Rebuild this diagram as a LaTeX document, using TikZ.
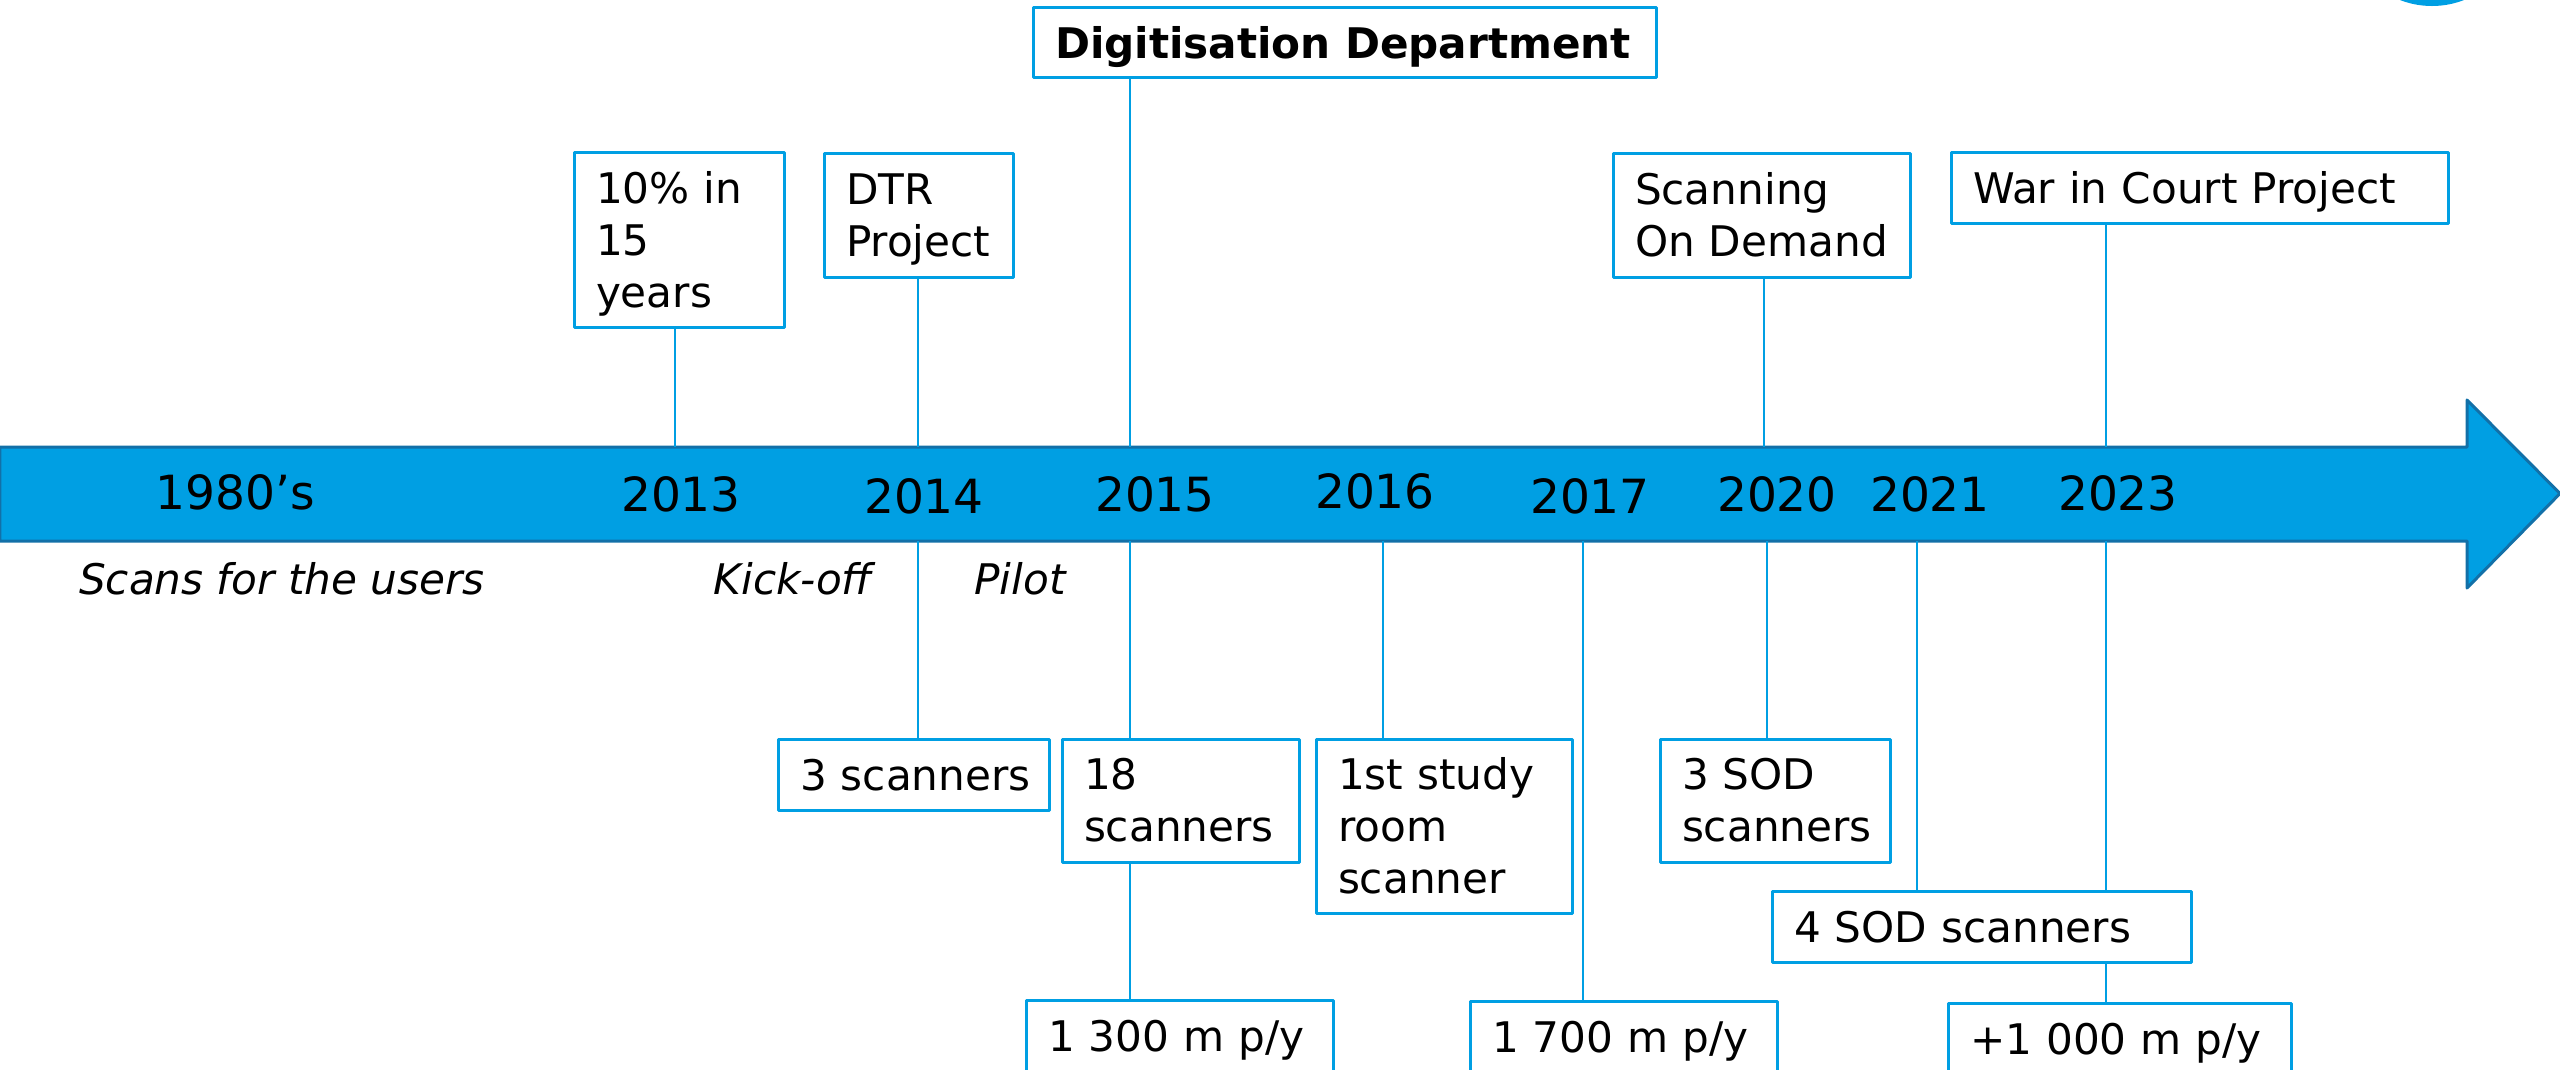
\documentclass[tikz,border=0pt]{standalone}
\usepackage{fontspec}
\setmainfont{DejaVu Sans}
\definecolor{tlblue}{RGB}{0,159,227}
\definecolor{tledge}{RGB}{18,112,168}
\begin{document}
\begin{tikzpicture}[x=0.1mm,y=-0.1mm, line join=round,
	year/.style={font=\fontsize{13.4}{16}\selectfont},
	note/.style={font=\fontsize{12}{14.8}\selectfont\itshape},
	box/.style 2 args={draw=tlblue, line width=0.3mm, fill=white, align=left, inner xsep=2.2mm, inner ysep=0pt, text width=#1mm, minimum height=#2mm, font=\fontsize{12}{14.8}\selectfont, execute at begin node={\hyphenpenalty=10000\relax}},
	one/.style={text depth=0pt},
	link/.style={draw=tlblue, line width=0.15mm}]
		\useasboundingbox (0,0) rectangle (2560,1069);
		\clip (0,0) rectangle (2560,1069);
		% timeline arrow
		\draw[fill=tlblue, draw=tledge, line width=0.3mm] (0,447) -- (2467,447) -- (2467,400) -- (2560,493.5) -- (2467,588) -- (2467,541) -- (0,541) -- cycle;
		\fill[tlblue] (2432,-82) circle (88);
		\node[year] (y80) at (235,492) {1980’s};
		\node[year] (y13) at (681,494) {2013};
		\node[year] (y14) at (924,496) {2014};
		\node[year] (y15) at (1155,494) {2015};
		\node[year] (y16) at (1375,491) {2016};
		\node[year] (y17) at (1590,496) {2017};
		\node[year] (y20) at (1777,494) {2020};
		\node[year] (y21) at (1930,494) {2021};
		\node[year] (y23) at (2118,493) {2023};
		\node[note] (n80) at (282,579) {Scans for the users};
		\node[note] (n13) at (793,579) {Kick-off};
		\node[note] (n14) at (1020,579) {Pilot};
		% boxes above
		\node[box={16.6}{17.5}] (b13) at (679,239.5) {10\% in\\15\\\smash{years}};
		\node[box={14.5}{12.4}] (b14) at (918.5,215) {DTR\\\smash{Project}};
		\node[box={57.9}{7.0}, one, font=\fontsize{12}{14.8}\selectfont\bfseries] (dep) at (1344.5,42) {Digitisation Department};
		\node[box={25.3}{12.4}] (b20) at (1761.5,215) {Scanning\\On Demand};
		\node[box={45.3}{7.1}, one] (b23) at (2199.5,187.5) {War in Court Project};
		% boxes below
		\node[box={22.7}{7.1}, one] (s14) at (913.5,774.5) {3~scanners};
		\node[box={19.3}{12.3}] (s15) at (1180.5,800.5) {18\\scanners};
		\node[box={21.2}{17.4}] (s16) at (1444,826) {1st study\\room\\scanner};
		\node[box={18.6}{12.3}] (s20) at (1775,800.5) {3 SOD\\scanners};
		\node[box={37.5}{7.1}, one] (s21) at (1981.5,926.5) {4 SOD scanners};
		\node[box={26.3}{7.1}, one] (m15) at (1179.5,1035.5) {1 300 m p/y};
		\node[box={26.3}{7.1}, one] (m17) at (1623.5,1036.5) {1 700 m p/y};
		\node[box={29.9}{7.1}, one] (m23) at (2119.5,1038.5) {+1 000 m p/y};
		% connectors
		\coordinate (t13) at (675,447);
		\coordinate (t14) at (918,447); \coordinate (u14) at (918,541);
		\coordinate (t15) at (1130,447); \coordinate (u15) at (1130,541);
		\coordinate (u16) at (1383,541);
		\coordinate (u17) at (1583,541);
		\coordinate (t20) at (1764,447); \coordinate (u20) at (1767,541);
		\coordinate (u21) at (1917,541);
		\coordinate (t23) at (2106,447); \coordinate (u23) at (2106,541);
		\draw[link] (b13.south -| t13) -- (t13);
		\draw[link] (b14.south -| t14) -- (t14);
		\draw[link] (dep.south -| t15) -- (t15);
		\draw[link] (b20.south -| t20) -- (t20);
		\draw[link] (b23.south -| t23) -- (t23);
		\draw[link] (u14) -- (u14 |- s14.north);
		\draw[link] (u15) -- (u15 |- s15.north);
		\draw[link] (s15.south -| u15) -- (m15.north -| u15);
		\draw[link] (u16) -- (u16 |- s16.north);
		\draw[link] (u17) -- (u17 |- m17.north);
		\draw[link] (u20) -- (u20 |- s20.north);
		\draw[link] (u21) -- (u21 |- s21.north);
		\draw[link] (u23) -- (u23 |- s21.north);
		\draw[link] (s21.south -| u23) -- (m23.north -| u23);
	\end{tikzpicture}
\end{document}
